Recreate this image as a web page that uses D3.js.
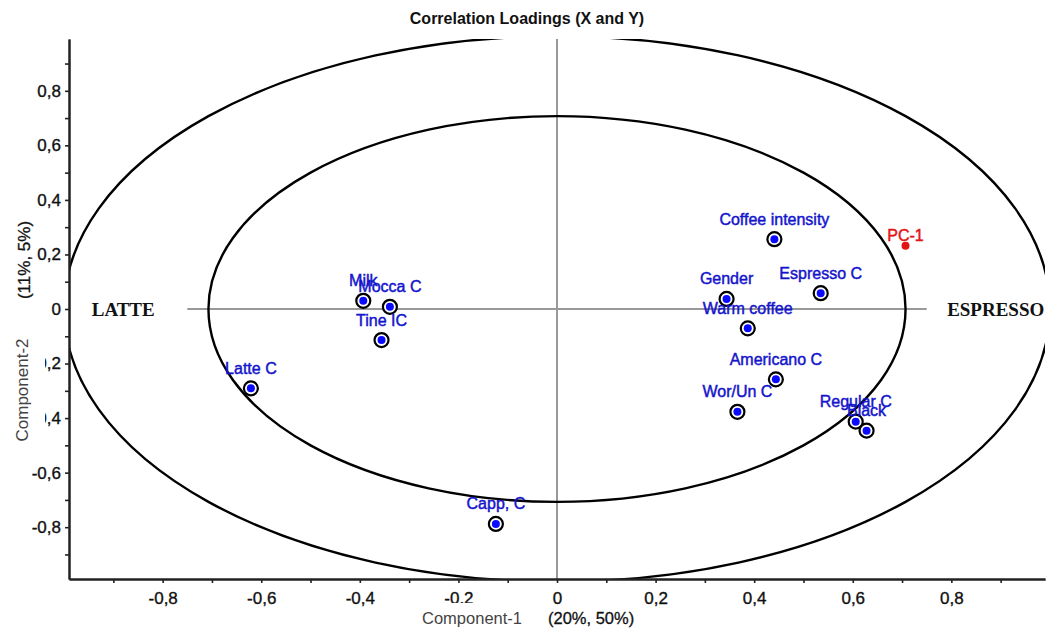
<!DOCTYPE html>
<html>
<head>
<meta charset="utf-8">
<script src="https://cdn.jsdelivr.net/npm/d3@7/dist/d3.min.js"></script>
<style>
  body { margin: 0; background: #fff; }
  svg { display: block; font-family: "Liberation Sans", Arial, sans-serif; }
</style>
</head>
<body>
<svg id="chart" width="1058" height="635"></svg>
<script>
// loadings
var names = ['Coffee intensity', 'Gender', 'Espresso C', 'Warm coffee', 'Americano C',
  'Wor/Un C', 'Regular C', 'Black', 'Milk', 'Mocca C', 'Tine IC', 'Latte C', 'Capp, C'];
var comp1 = [0.441, 0.344, 0.535, 0.387, 0.444, 0.366, 0.606, 0.628, -0.393, -0.339, -0.356, -0.621, -0.124];
var comp2 = [0.256, 0.037, 0.058, -0.071, -0.258, -0.377, -0.413, -0.446, 0.030, 0.008, -0.114, -0.291, -0.788];

var yNames = ['PC-1'];
var yComp1 = [0.707];
var yComp2 = [0.232];

var zoneNames = ['LATTE', 'ESPRESSO'];
var zoneX = [-0.88, 0.89];

var radii = [1, Math.sqrt(0.5)];
var majorTicks = [-0.8, -0.6, -0.4, -0.2, 0, 0.2, 0.4, 0.6, 0.8];
var minorTicks = [-0.9, -0.7, -0.5, -0.3, -0.1, 0.1, 0.3, 0.5, 0.7, 0.9];
var domain = [-0.99, 0.99];

var svg = d3.select('#chart');
var x = d3.scaleLinear().domain(domain).range([69, 1045]);
var y = d3.scaleLinear().domain(domain).range([579, 39]);

function commaFmt(d) {
  if (Math.abs(d) < 1e-9) return '0';
  return d3.format('.1f')(d).replace('.', ',').replace('\u2212', '-');
}

svg.append('defs').append('clipPath').attr('id', 'plot')
  .append('rect')
  .attr('x', x(domain[0])).attr('y', y(domain[1]))
  .attr('width', x(domain[1]) - x(domain[0]))
  .attr('height', y(domain[0]) - y(domain[1]));

// title
svg.append('text')
  .attr('x', 527).attr('y', 24)
  .attr('text-anchor', 'middle')
  .style('font-size', '16px').style('font-weight', 'bold').style('fill', '#111')
  .text('Correlation Loadings (X and Y)');

var plot = svg.append('g').attr('clip-path', 'url(#plot)');

// centre lines
plot.append('line')
  .attr('x1', x(-0.75)).attr('x2', x(0.75))
  .attr('y1', y(0)).attr('y2', y(0))
  .style('stroke', '#999').style('stroke-width', 2);
plot.append('line')
  .attr('x1', x(0)).attr('x2', x(0))
  .attr('y1', y(domain[1])).attr('y2', y(domain[0]))
  .style('stroke', '#999').style('stroke-width', 2);

// 100% and 50% explained variance ellipses
plot.selectAll('ellipse.r').data(radii).enter().append('ellipse')
  .attr('class', 'r')
  .attr('cx', x(0)).attr('cy', y(0))
  .attr('rx', function(r) { return x(r) - x(0); })
  .attr('ry', function(r) { return y(0) - y(r); })
  .style('fill', 'none').style('stroke', '#000').style('stroke-width', 2.4);

plot.selectAll('text.zone').data(zoneNames).enter().append('text')
  .attr('class', 'zone')
  .attr('x', function(d, i) { return x(zoneX[i]); })
  .attr('y', y(0) + 6.5)
  .attr('text-anchor', 'middle')
  .style('font-family', '"Liberation Serif", "Times New Roman", serif')
  .style('font-size', '19px').style('font-weight', 'bold').style('fill', '#111')
  .text(function(d) { return d; });

// X loadings
var pts = plot.selectAll('g.pt').data(names).enter().append('g')
  .attr('class', 'pt')
  .attr('transform', function(d, i) { return 'translate(' + x(comp1[i]) + ',' + y(comp2[i]) + ')'; });
pts.append('circle').attr('r', 7)
  .style('fill', '#fff').style('stroke', '#000').style('stroke-width', 2.2);
pts.append('circle').attr('r', 4).style('fill', '#0a0aff');
pts.append('text')
  .attr('y', -14.5)
  .attr('text-anchor', 'middle')
  .style('font-size', '16px').style('fill', '#1414cc')
  .style('stroke', '#1414cc').style('stroke-width', 0.45)
  .text(function(d) { return d; });

// Y loadings
var ypts = plot.selectAll('g.ypt').data(yNames).enter().append('g')
  .attr('class', 'ypt')
  .attr('transform', function(d, i) { return 'translate(' + x(yComp1[i]) + ',' + y(yComp2[i]) + ')'; });
ypts.append('circle').attr('r', 4).style('fill', '#e31414');
ypts.append('text')
  .attr('y', -4.5)
  .attr('text-anchor', 'middle')
  .style('font-size', '16px').style('fill', '#e31414')
  .style('stroke', '#e31414').style('stroke-width', 0.45)
  .text(function(d) { return d; });

// axes
svg.append('g').attr('transform', 'translate(0,' + y(domain[0]) + ')')
  .call(d3.axisBottom(x).tickValues(majorTicks).tickFormat(commaFmt).tickSize(4).tickSizeOuter(0).tickPadding(9));
svg.append('g').attr('transform', 'translate(0,' + y(domain[0]) + ')')
  .call(d3.axisBottom(x).tickValues(minorTicks).tickFormat('').tickSize(4).tickSizeOuter(0));
svg.append('g').attr('transform', 'translate(' + x(domain[0]) + ',0)')
  .call(d3.axisLeft(y).tickValues(majorTicks).tickFormat(commaFmt).tickSize(4).tickSizeOuter(0).tickPadding(4));
svg.append('g').attr('transform', 'translate(' + x(domain[0]) + ',0)')
  .call(d3.axisLeft(y).tickValues(minorTicks).tickFormat('').tickSize(4).tickSizeOuter(0));

svg.selectAll('.domain').style('stroke', '#222').style('stroke-width', 2);
svg.selectAll('.tick line').style('stroke', '#222').style('stroke-width', 1.6);
svg.selectAll('.tick text').style('font-size', '17px').style('fill', '#111')
  .style('stroke', '#111').style('stroke-width', 0.35)
  .style('font-family', '"Liberation Sans", Arial, sans-serif');

// axis titles (their white boxes cover part of the tick labels, as in the source)
svg.append('rect').attr('x', 424).attr('y', 603).attr('width', 102).attr('height', 32).style('fill', '#fff');
svg.append('text')
  .attr('x', 522).attr('y', 624)
  .attr('text-anchor', 'end')
  .style('font-size', '16.5px').style('fill', '#444')
  .text('Component-1');
svg.append('text')
  .attr('x', 548).attr('y', 624)
  .style('font-size', '16.5px').style('fill', '#111')
  .style('stroke', '#111').style('stroke-width', 0.3)
  .text('(20%, 50%)');

svg.append('rect').attr('x', 0).attr('y', 334).attr('width', 45).attr('height', 114).style('fill', '#fff');
svg.append('text')
  .attr('transform', 'translate(28,390) rotate(-90)')
  .attr('text-anchor', 'middle')
  .style('font-size', '17px').style('fill', '#444')
  .text('Component-2');
svg.append('text')
  .attr('transform', 'translate(30,260) rotate(-90)')
  .attr('text-anchor', 'middle')
  .style('font-size', '17px').style('fill', '#111')
  .style('stroke', '#111').style('stroke-width', 0.3)
  .text('(11%, 5%)');
</script>
</body>
</html>
